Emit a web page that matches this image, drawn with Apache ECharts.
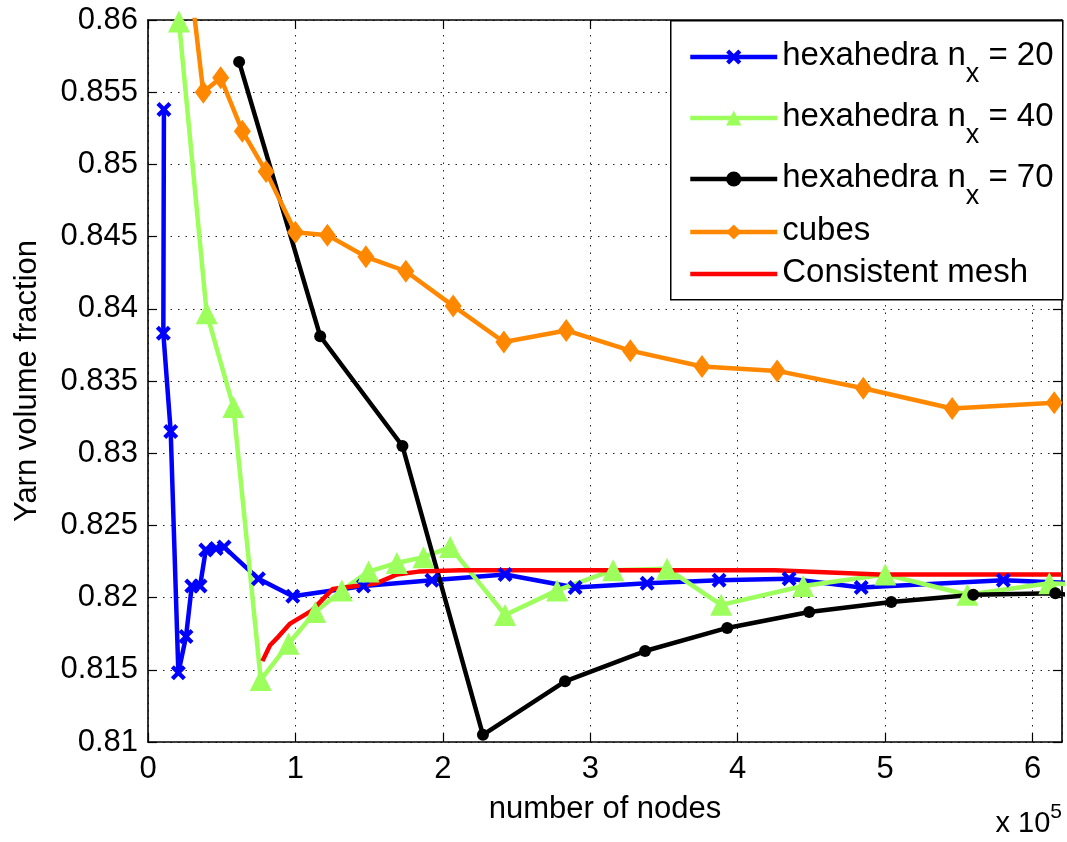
<!DOCTYPE html>
<html>
<head>
<meta charset="utf-8">
<script src="https://cdn.jsdelivr.net/npm/echarts@6/dist/echarts.min.js"></script>
<style>
html,body{margin:0;padding:0;background:#fff;}
#chart{width:1067px;height:842px;}
</style>
</head>
<body>
<div id="chart"></div>
<script>
// ---- data (x = number of nodes, y = yarn volume fraction) ----
const seriesNames = ['hexahedra n_x = 20', 'hexahedra n_x = 40', 'hexahedra n_x = 70', 'cubes', 'Consistent mesh'];

const hex20 = [[10800,0.8538],[10400,0.8383],[15400,0.8315],[20600,0.8148],[25800,0.8173],[29700,0.8208],[35300,0.8208],[39200,0.8233],[46200,0.8234],[51600,0.8235],[74900,0.8213],[98200,0.8201],[146200,0.8208],[192600,0.8212],[242200,0.8216],[289700,0.8207],[338600,0.8210],[387400,0.8212],[434900,0.8213],[483800,0.8207],[580200,0.8212],[628000,0.8210]];

const hex40 = [[21000,0.8599],[39800,0.8397],[57900,0.8332],[76500,0.8143],[95300,0.8168],[113400,0.8190],[131500,0.8205],[149600,0.8218],[168800,0.8224],[186900,0.8228],[205000,0.8235],[242200,0.8188],[277500,0.8205],[315500,0.8219],[352100,0.8220],[388800,0.8195],[444400,0.8208],[500100,0.8216],[555800,0.8202],[611400,0.8210],[667000,0.8207]];

const hex70 = [[61800,0.8571],[116800,0.8381],[172600,0.8305],[227200,0.8105],[282900,0.8142],[337200,0.8163],[392900,0.8179],[448500,0.8190],[504200,0.8197],[559800,0.8202],[615500,0.8203],[671000,0.8196]];

const cubes = [[27000,0.8642],[37500,0.8550],[49300,0.8560],[64000,0.8523],[80100,0.8495],[100000,0.8453],[121700,0.8451],[147800,0.8436],[174900,0.8426],[207000,0.8402],[241400,0.8377],[283700,0.8385],[327200,0.8371],[375800,0.8360],[426800,0.8357],[485200,0.8345],[545500,0.8331],[614700,0.8335]];

const consistent = [[77600,0.8156],[82800,0.8167],[88500,0.8173],[96400,0.8182],[111100,0.8191],[125400,0.8206],[155200,0.8210],[168800,0.8216],[183500,0.8218],[211800,0.8219],[300000,0.8219],[425400,0.8219],[496000,0.8216],[620000,0.8216]];

const xMin = 0, xMax = 620000, xStep = 100000;
const yMin = 0.81, yMax = 0.86, yStep = 0.005;
const xTitle = 'number of nodes';
const yTitle = 'Yarn volume fraction';

// ---- chart ----
const FONT = '"Liberation Sans", Arial, Helvetica, sans-serif';
const chart = echarts.init(document.getElementById('chart'), null, {renderer: 'canvas'});

const xCross = 'path://M0,2 L2,0 L5,3 L8,0 L10,2 L7,5 L10,8 L8,10 L5,7 L2,10 L0,8 L3,5 Z';

const splitStyle = {show: true, lineStyle: {color: '#222', width: 1, type: [1.5, 6]}};
const frameLine = {show: true, onZero: false, lineStyle: {color: '#000', width: 1.6}};
const innerTick = {show: true, inside: true, length: 9, lineStyle: {color: '#000', width: 1.2}};

function lineSeries(name, data, color, symbol, size, extra) {
  return Object.assign({
    name: name, type: 'line', data: data,
    symbol: symbol, symbolSize: size, showSymbol: symbol !== 'none',
    lineStyle: {color: color, width: 4.5},
    itemStyle: {color: color},
    clip: true, animation: false, z: 2
  }, extra || {});
}

function legendFormatter(name) {
  const i = name.indexOf('_x');
  if (i >= 0) {
    return '{m|' + name.slice(0, i) + '}{s|x}{m|' + name.slice(i + 2) + '}';
  }
  return '{m|' + name + '}';
}
const legendText = {
  fontFamily: FONT, fontSize: 33, color: '#000',
  rich: {
    m: {fontFamily: FONT, fontSize: 33, color: '#000', lineHeight: 36, verticalAlign: 'top'},
    s: {fontFamily: FONT, fontSize: 27, color: '#000', lineHeight: 30, padding: [22, 0, 0, 0], verticalAlign: 'top'}
  }
};
function makeLegend(top, gap, items) {
  return {
    orient: 'vertical', left: 670, top: top,
    padding: [0, 9, 0, 18],
    itemGap: gap, itemWidth: 87, itemHeight: 19,
    backgroundColor: 'transparent', borderWidth: 0, z: 6,
    lineStyle: {width: 4.5},
    data: items,
    formatter: legendFormatter,
    textStyle: legendText
  };
}

const option = {
  backgroundColor: '#fff',
  animation: false,
  grid: {left: 148, right: 5, top: 20, bottom: 100, containLabel: false},
  xAxis: [{
    type: 'value', min: xMin, max: xMax, interval: xStep, position: 'bottom',
    name: xTitle, nameLocation: 'middle', nameGap: 52,
    nameTextStyle: {fontFamily: FONT, fontSize: 31, color: '#000'},
    axisLine: frameLine, axisTick: innerTick, splitLine: splitStyle,
    axisLabel: {fontFamily: FONT, fontSize: 31, color: '#000', margin: 12, showMaxLabel: false,
      formatter: v => String(Math.round(v / 1e5))}
  }, {
    type: 'value', min: xMin, max: xMax, interval: xStep, position: 'top',
    axisLine: frameLine, axisTick: innerTick, splitLine: {show: false}, axisLabel: {show: false}
  }],
  yAxis: [{
    type: 'value', min: yMin, max: yMax, interval: yStep, position: 'left',
    name: yTitle, nameLocation: 'middle', nameGap: 105, nameRotate: 90,
    nameTextStyle: {fontFamily: FONT, fontSize: 31, color: '#000'},
    axisLine: frameLine, axisTick: innerTick, splitLine: splitStyle,
    axisLabel: {fontFamily: FONT, fontSize: 31, color: '#000', margin: 10,
      formatter: v => String(Number(v.toFixed(3)))}
  }, {
    type: 'value', min: yMin, max: yMax, interval: yStep, position: 'right',
    axisLine: frameLine, axisTick: innerTick, splitLine: {show: false}, axisLabel: {show: false}
  }],
  legend: [
    makeLegend(39, 12, [{name: seriesNames[0]}, {name: seriesNames[1]}, {name: seriesNames[2]}]),
    makeLegend(214, 9, [{name: seriesNames[3]}, {name: seriesNames[4], itemStyle: {opacity: 0}}])
  ],
  graphic: [{
    type: 'rect', left: 670, top: 20, z: 5, silent: true,
    shape: {width: 392, height: 279},
    style: {fill: '#fff', stroke: '#000', lineWidth: 1.5}
  }, {
    type: 'text', right: 5, top: 802, z: 10,
    style: {
      text: '{a|x 10}{b|5}',
      rich: {
        a: {fontFamily: FONT, fontSize: 29, fill: '#000', lineHeight: 36, verticalAlign: 'bottom'},
        b: {fontFamily: FONT, fontSize: 21, fill: '#000', lineHeight: 36, verticalAlign: 'top'}
      }
    }
  }],
  series: [
    lineSeries(seriesNames[0], hex20, '#0000ff', xCross, 15),
    lineSeries(seriesNames[1], hex40, '#9cff5c', 'triangle', 22),
    lineSeries(seriesNames[2], hex70, '#000000', 'circle', 12),
    lineSeries(seriesNames[3], cubes, '#ff8800', 'diamond', [17, 23]),
    lineSeries(seriesNames[4], consistent, '#ff0000', 'none', 0)
  ]
};

chart.setOption(option);
</script>
</body>
</html>
